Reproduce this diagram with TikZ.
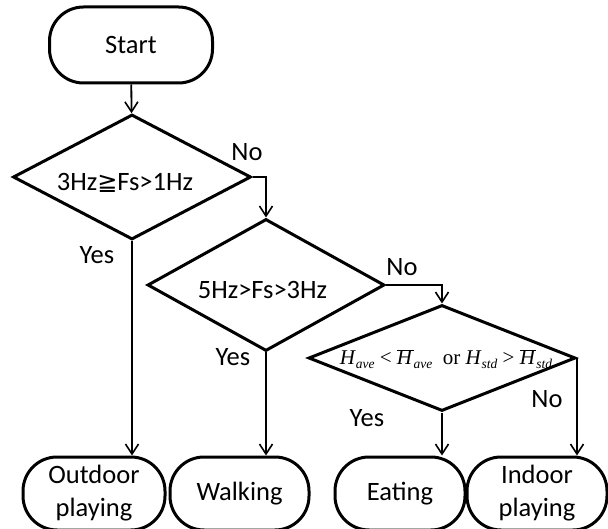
\documentclass[tikz,border=0pt]{standalone}
\usepackage{fontspec}
\setmainfont{Carlito}
\newfontfamily\timesfont{Liberation Serif}
\newfontfamily\dejavu{DejaVu Sans}
\usetikzlibrary{shapes.geometric,arrows.meta}

\newcommand{\Hsub}[1]{\textit{H}\raisebox{-0.4ex}{\fontsize{13.5}{14}\selectfont\textit{#1}}}
\newcommand{\Hbar}[1]{$\overline{\mbox{\textit{H}\kern0.5pt}}$\raisebox{-0.4ex}{\fontsize{13.5}{14}\selectfont\textit{#1}}}

\tikzset{
  terminal/.style={draw, line width=3pt, rounded corners=34pt, inner sep=0pt, align=center},
  decision/.style={draw, diamond, line width=3pt, inner sep=0pt},
  flow/.style={draw, line width=1.8pt, -{Straight Barb[length=10pt,width=13pt,line width=1.6pt]}},
  lbl/.style={font=\fontsize{26.5}{33}\selectfont}
}

\begin{document}
\begin{tikzpicture}[x=1pt, y=-1pt]
  \useasboundingbox (0,0) rectangle (608,529);
  % start
  \node[terminal, minimum width=163pt, minimum height=76pt, lbl] (start) at (131,45) {Start};
  % decisions
  \node[decision, minimum width=238pt, minimum height=125pt] (d1) at (132,177) {};
  \node[lbl] (t1) at (125,183) {3Hz{\dejavu\fontsize{24}{30}\selectfont ≧}Fs>1Hz};
  \node[decision, minimum width=237pt, minimum height=132pt] (d2) at (266,285) {};
  \node[lbl] (t2) at (262.5,290) {5Hz>Fs>3Hz};
  \node[decision, minimum width=267pt, minimum height=106pt] (d3) at (442,358) {};
  \node[font=\timesfont\fontsize{21}{24}\selectfont, inner sep=0pt] (t3) at (446,359)
    {\Hsub{ave} < \Hbar{ave}\ \ or \Hsub{std} > \Hbar{std}};
  % activities
  \node[terminal, minimum width=142pt, minimum height=73pt, lbl] (outdoor) at (94,493.5) {Outdoor\\playing};
  \node[terminal, minimum width=139pt, minimum height=73pt, lbl] (walk) at (239.5,493.5) {Walking};
  \node[terminal, minimum width=130pt, minimum height=73pt, lbl] (eat) at (400,493.5) {Eating};
  \node[terminal, minimum width=140pt, minimum height=73pt, lbl] (indoor) at (537,493.5) {Indoor\\playing};
  % connectors
  \draw[flow] (start) -- (d1);
  \draw[flow] (d1.east) -| (d2.north);
  \draw[flow] (d2.east) -| (d3.north);
  \draw[flow] (d1.south) -- (d1.south |- outdoor.north);
  \draw[flow] (d2.south) -- (d2.south |- walk.north);
  \draw[flow] (d3.south) -- (d3.south |- eat.north);
  \draw[flow] (d3.east) -- (d3.east |- indoor.north);
  % branch labels
  \node[lbl] (no1) at (247,152) {No};
  \node[lbl] (yes1) at (97,255) {Yes};
  \node[lbl] (no2) at (402,267) {No};
  \node[lbl] (yes2) at (233,357) {Yes};
  \node[lbl] (yes3) at (367,418) {Yes};
  \node[lbl] (no3) at (547,399) {No};
\end{tikzpicture}
\end{document}
